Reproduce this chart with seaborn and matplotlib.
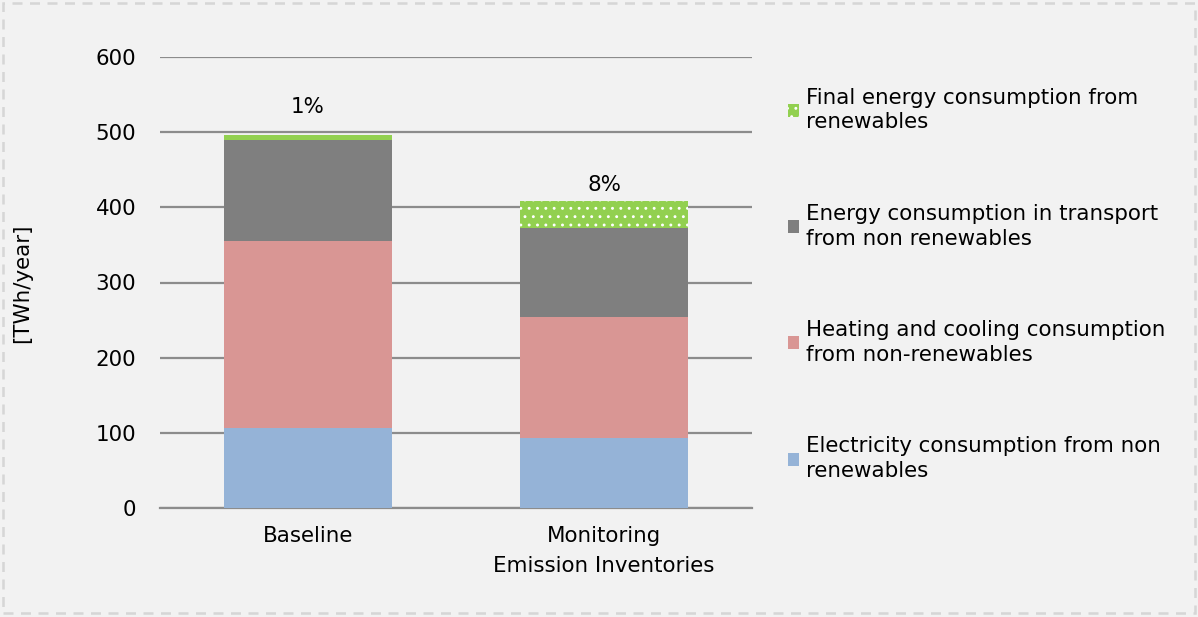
import matplotlib
matplotlib.use("Agg")
import matplotlib.pyplot as plt
import seaborn as sns
import numpy as np
import pandas as pd
from matplotlib.patches import Rectangle, Patch

# Energy consumption by category [TWh/year]
scenarios = ["Baseline", "Monitoring\nEmission Inventories"]
electricity = [107, 93]
heating = [248, 161]
transport = [135, 119]
renewables = [6, 35]
share_labels = ["1%", "8%"]

series_names = [
    "Electricity consumption from non\nrenewables",
    "Heating and cooling consumption\nfrom non-renewables",
    "Energy consumption in transport\nfrom non renewables",
    "Final energy consumption from\nrenewables",
]
colors = ["#95b3d7", "#d99694", "#7f7f7f", "#92d050"]

sns.set_theme(style="white")
plt.rcParams["font.family"] = ["DejaVu Sans"]
plt.rcParams["hatch.linewidth"] = 0.9
plt.rcParams["hatch.color"] = "white"

FS = 15.4
bg = "#f2f2f2"
fig = plt.figure(figsize=(11.98, 6.17), dpi=100, facecolor=bg)
ax = fig.add_axes([160 / 1198, 1 - 508 / 617, 592 / 1198, 451 / 617])
ax.set_facecolor(bg)

layers = [electricity, heating, transport, renewables]
cum = np.cumsum(np.array(layers), axis=0)

# Stacked bars: draw cumulative totals from the top layer downwards
for i in range(len(layers) - 1, -1, -1):
    df = pd.DataFrame({"scenario": scenarios, "value": cum[i]})
    sns.barplot(
        data=df, x="scenario", y="value", ax=ax, color=colors[i],
        width=0.57, saturation=1, linewidth=0, edgecolor="white",
        hatch=".." if i == 3 else None, zorder=3,
    )

totals = cum[-1]
label_offsets = [37, 22]
for x, (t, lab, off) in enumerate(zip(totals, share_labels, label_offsets)):
    ax.text(x, t + off, lab, ha="center", va="center", fontsize=FS, color="black")

ax.set_ylim(0, 600)
ax.set_xlim(-0.5, 1.5)
ax.set_yticks(range(0, 601, 100))
ax.yaxis.grid(True, color="#8c8c8c", linewidth=1.6, zorder=0)
ax.set_axisbelow(True)
for s in ["left", "right", "top"]:
    ax.spines[s].set_visible(False)
ax.spines["bottom"].set_color("#8c8c8c")
ax.spines["bottom"].set_linewidth(1.6)
ax.tick_params(axis="both", length=0, labelsize=FS, colors="black")
ax.tick_params(axis="y", pad=17)
ax.tick_params(axis="x", pad=13)
for lbl in ax.get_xticklabels():
    lbl.set_linespacing(1.6)
ax.set_xlabel("")
ax.set_ylabel("")
fig.text(22 / 1198, 1 - 283 / 617, "[TWh/year]", rotation=90, ha="center",
         va="center", fontsize=FS, color="black")

# Legend in reverse stacking order
handles = [Patch(facecolor=colors[i], edgecolor="white", linewidth=0,
                 hatch=".." if i == 3 else None) for i in range(3, -1, -1)]
labels = [series_names[i] for i in range(3, -1, -1)]
leg = fig.legend(handles, labels, loc="upper left",
                 bbox_to_anchor=(779 / 1198, 1 - 79 / 617),
                 frameon=False, fontsize=FS, handlelength=0.55,
                 handleheight=0.55, handletextpad=0.3, labelspacing=3.34,
                 borderaxespad=0, labelcolor="black")
for t in leg.get_texts():
    t.set_linespacing(1.3)

# Dashed frame around the figure
fig.patches.append(Rectangle((3 / 1198, 4 / 617), 1 - 6 / 1198, 1 - 7 / 617,
                             transform=fig.transFigure, fill=False,
                             edgecolor="#d6d6d6", linewidth=1.8,
                             linestyle=(0, (4, 3))))

fig.savefig("out.png", dpi=100, facecolor=bg)
